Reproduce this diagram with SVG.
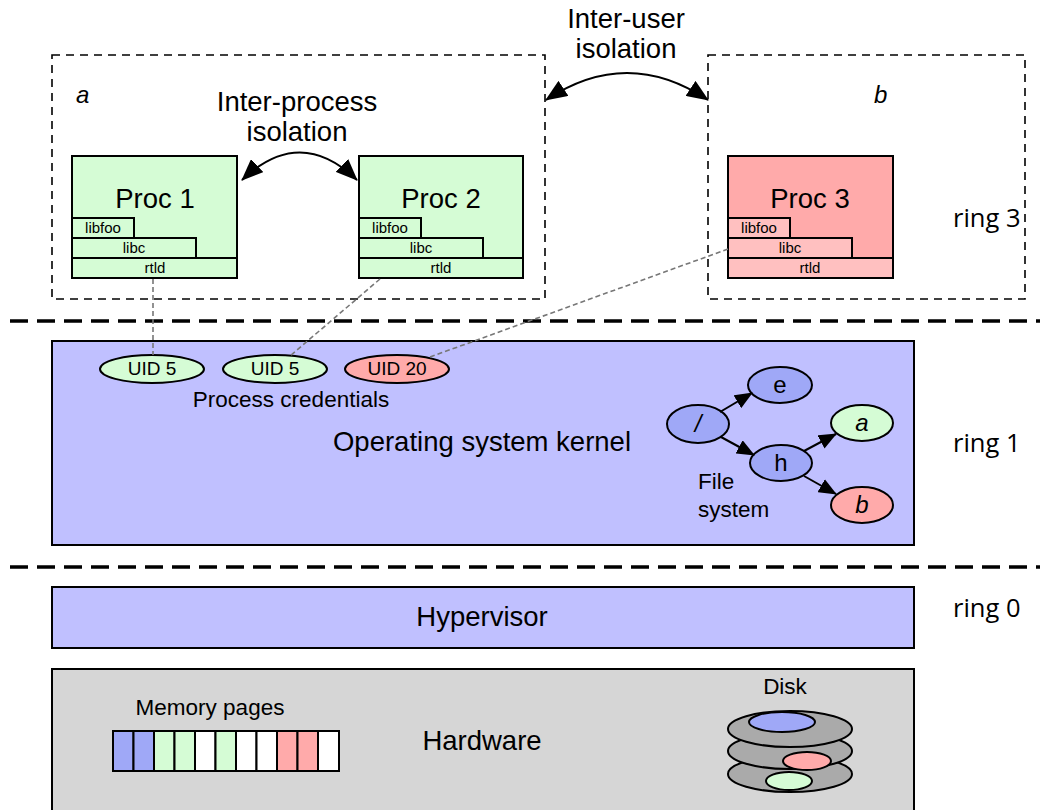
<svg xmlns="http://www.w3.org/2000/svg" width="1046" height="810" viewBox="0 0 1046 810">
  <style>
    text { font-family: "Liberation Sans", Arial, sans-serif; fill: #000; }
    .big { font-size: 27.5px; }
    .mid { font-size: 22.5px; }
    .uid { font-size: 19px; }
    .node { font-size: 24px; }
    .lib { font-size: 15px; }
    .ring { font-family: "Open Sans", "Noto Sans", sans-serif; font-size: 25.5px; }
    .it { font-style: italic; }
    .user { fill: none; stroke: #000; stroke-width: 1.6; stroke-dasharray: 8 6; }
    .sep { fill: none; stroke: #000; stroke-width: 3.5; stroke-dasharray: 18 9; }
    .box { stroke: #000; stroke-width: 2; }
    .green { fill: #d5fcd5; }
    .red { fill: #ffaaaa; }
    .pink { fill: #ffc0c0; }
    .blue { fill: #9fa8f7; }
    .kern { fill: #c0c0ff; }
    .hw { fill: #d6d6d6; }
    .plat { fill: #aaaaaa; stroke: #000; stroke-width: 2; }
    .cred { fill: none; stroke: #777; stroke-width: 1.6; stroke-dasharray: 5 3; }
    .curve { fill: none; stroke: #000; stroke-width: 2; }
    .edge { fill: none; stroke: #000; stroke-width: 2; }
  </style>
  <defs>
    <marker id="bigHead" viewBox="0 0 22 18" refX="21" refY="9" markerWidth="22" markerHeight="18" markerUnits="userSpaceOnUse" orient="auto-start-reverse">
      <path d="M0,0 L22,9 L0,18 z" fill="#000"/>
    </marker>
    <marker id="smallHead" viewBox="0 0 18 15" refX="17" refY="7.5" markerWidth="18" markerHeight="15" markerUnits="userSpaceOnUse" orient="auto">
      <path d="M0,0 L18,7.5 L0,15 z" fill="#000"/>
    </marker>
  </defs>

  <!-- user domains -->
  <g id="user-a">
    <rect class="user" x="52" y="55" width="493" height="244"/>
    <text class="node it" x="76" y="103">a</text>
  </g>
  <g id="user-b">
    <rect class="user" x="708" y="55" width="317" height="244"/>
    <text class="node it" x="874" y="103">b</text>
  </g>

  <!-- ring separators -->
  <line class="sep" x1="10" y1="321" x2="1040" y2="321"/>
  <line class="sep" x1="10" y1="567" x2="1040" y2="567"/>

  <!-- processes -->
  <g id="proc1">
    <rect class="box green" x="72" y="156" width="165" height="122"/>
    <text class="big" x="155" y="208" text-anchor="middle">Proc 1</text>
    <rect class="box green" x="72" y="258" width="165" height="20"/>
    <text class="lib" x="155" y="273" text-anchor="middle">rtld</text>
    <rect class="box green" x="72" y="238" width="124" height="20"/>
    <text class="lib" x="134" y="253" text-anchor="middle">libc</text>
    <rect class="box green" x="72" y="218" width="62" height="20"/>
    <text class="lib" x="103" y="233" text-anchor="middle">libfoo</text>
  </g>
  <g id="proc2">
    <rect class="box green" x="359" y="156" width="164" height="122"/>
    <text class="big" x="441" y="208" text-anchor="middle">Proc 2</text>
    <rect class="box green" x="359" y="258" width="164" height="20"/>
    <text class="lib" x="441" y="273" text-anchor="middle">rtld</text>
    <rect class="box green" x="359" y="238" width="124" height="20"/>
    <text class="lib" x="421" y="253" text-anchor="middle">libc</text>
    <rect class="box green" x="359" y="218" width="62" height="20"/>
    <text class="lib" x="390" y="233" text-anchor="middle">libfoo</text>
  </g>
  <g id="proc3">
    <rect class="box red" x="728" y="156" width="165" height="122"/>
    <text class="big" x="810" y="208" text-anchor="middle">Proc 3</text>
    <rect class="box pink" x="728" y="258" width="165" height="20"/>
    <text class="lib" x="810" y="273" text-anchor="middle">rtld</text>
    <rect class="box pink" x="728" y="238" width="124" height="20"/>
    <text class="lib" x="790" y="253" text-anchor="middle">libc</text>
    <rect class="box pink" x="728" y="218" width="62" height="20"/>
    <text class="lib" x="759" y="233" text-anchor="middle">libfoo</text>
  </g>

  <!-- isolation labels -->
  <text class="big" x="297" y="111" text-anchor="middle">Inter-process</text>
  <text class="big" x="297" y="141" text-anchor="middle">isolation</text>
  <text class="big" x="626" y="28" text-anchor="middle">Inter-user</text>
  <text class="big" x="626" y="58" text-anchor="middle">isolation</text>

  <!-- ring labels -->
  <text class="ring" x="953" y="227">ring 3</text>
  <text class="ring" x="953" y="452">ring 1</text>
  <text class="ring" x="953" y="617">ring 0</text>

  <!-- kernel -->
  <g id="kernel">
    <rect class="box kern" x="52" y="341" width="862" height="204"/>
    <text class="big" x="482" y="451" text-anchor="middle">Operating system kernel</text>
    <text class="mid" x="291" y="407" text-anchor="middle">Process credentials</text>
  </g>
  <g id="uid-1">
    <ellipse class="box green" cx="152" cy="369" rx="52" ry="14"/>
    <text class="uid" x="152" y="375" text-anchor="middle">UID 5</text>
  </g>
  <g id="uid-2">
    <ellipse class="box green" cx="275" cy="369" rx="52" ry="14"/>
    <text class="uid" x="275" y="375" text-anchor="middle">UID 5</text>
  </g>
  <g id="uid-3">
    <ellipse class="box red" cx="397" cy="369" rx="52" ry="14"/>
    <text class="uid" x="397" y="375" text-anchor="middle">UID 20</text>
  </g>

  <!-- file system -->
  <g id="fs-root">
    <ellipse class="box blue" cx="698" cy="424" rx="31" ry="19"/>
    <text class="node it" x="698" y="432" text-anchor="middle">/</text>
  </g>
  <g id="fs-e">
    <ellipse class="box blue" cx="780" cy="385" rx="32" ry="18"/>
    <text class="node" x="780" y="393" text-anchor="middle">e</text>
  </g>
  <g id="fs-h">
    <ellipse class="box blue" cx="781" cy="463" rx="31" ry="18"/>
    <text class="node" x="781" y="471" text-anchor="middle">h</text>
  </g>
  <g id="fs-a">
    <ellipse class="box green" cx="862" cy="423" rx="31" ry="18"/>
    <text class="node it" x="862" y="431" text-anchor="middle">a</text>
  </g>
  <g id="fs-b">
    <ellipse class="box red" cx="862" cy="505" rx="31" ry="18"/>
    <text class="node it" x="862" y="513" text-anchor="middle">b</text>
  </g>
  <text class="mid" x="698" y="489">File</text>
  <text class="mid" x="698" y="517">system</text>

  <!-- hypervisor -->
  <g id="hypervisor">
    <rect class="box kern" x="52" y="587" width="862" height="61"/>
    <text class="big" x="482" y="626" text-anchor="middle">Hypervisor</text>
  </g>

  <!-- hardware -->
  <g id="hardware">
    <rect class="box hw" x="52" y="669" width="862" height="150"/>
    <text class="big" x="482" y="750" text-anchor="middle">Hardware</text>
    <text class="mid" x="210" y="715" text-anchor="middle">Memory pages</text>
    <g stroke="#000" stroke-width="2">
      <rect class="blue" x="113" y="731" width="20.5" height="40"/>
      <rect class="blue" x="133.5" y="731" width="20.5" height="40"/>
      <rect class="green" x="154" y="731" width="20.5" height="40"/>
      <rect class="green" x="174.5" y="731" width="20.5" height="40"/>
      <rect fill="#fff" x="195" y="731" width="20.5" height="40"/>
      <rect class="green" x="215.5" y="731" width="20.5" height="40"/>
      <rect fill="#fff" x="236" y="731" width="20.5" height="40"/>
      <rect fill="#fff" x="256.5" y="731" width="20.5" height="40"/>
      <rect class="red" x="277" y="731" width="20.5" height="40"/>
      <rect class="red" x="297.5" y="731" width="20.5" height="40"/>
      <rect fill="#fff" x="318" y="731" width="21" height="40"/>
    </g>
    <text class="mid" x="785" y="694" text-anchor="middle">Disk</text>
    <ellipse class="plat" cx="790" cy="774" rx="62" ry="18"/>
    <ellipse class="plat" cx="790" cy="751" rx="62" ry="18"/>
    <ellipse class="plat" cx="790" cy="729" rx="62" ry="18"/>
    <ellipse class="box blue" cx="782" cy="722" rx="33" ry="10"/>
    <ellipse class="box red" cx="807" cy="761" rx="24" ry="9"/>
    <ellipse class="box green" cx="789" cy="781" rx="23" ry="9"/>
  </g>

  <!-- connectors -->
  <g id="connectors">
    <path class="curve" d="M242,180 Q300,125 357,180" marker-start="url(#bigHead)" marker-end="url(#bigHead)"/>
    <path class="curve" d="M546,100 Q627,46 708,100" marker-start="url(#bigHead)" marker-end="url(#bigHead)"/>
    <line class="cred" x1="153" y1="279" x2="153" y2="355"/>
    <line class="cred" x1="380" y1="279" x2="290" y2="356"/>
    <line class="cred" x1="728" y1="249" x2="430" y2="357"/>
    <line class="edge" x1="720" y1="412" x2="752" y2="393" marker-end="url(#smallHead)"/>
    <line class="edge" x1="721" y1="437" x2="754" y2="455" marker-end="url(#smallHead)"/>
    <line class="edge" x1="804" y1="451" x2="836" y2="434" marker-end="url(#smallHead)"/>
    <line class="edge" x1="804" y1="476" x2="836" y2="494" marker-end="url(#smallHead)"/>
  </g>
</svg>
